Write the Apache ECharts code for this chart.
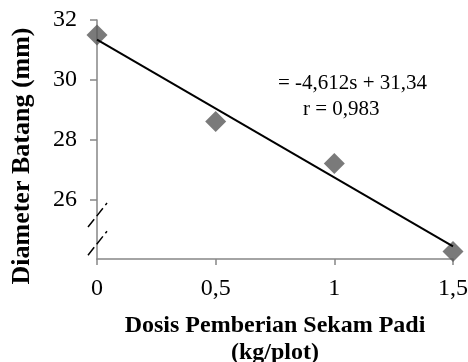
<!DOCTYPE html>
<html>
<head>
<meta charset="utf-8">
<script src="https://cdn.jsdelivr.net/npm/echarts@6/dist/echarts.min.js"></script>
<style>html,body{margin:0;padding:0;background:#fff}#c{width:468px;height:362px}</style>
</head>
<body>
<div id="c"></div>
<script>
// Data
var doses = [0, 0.5, 1, 1.5];
var diameters = [31.5, 28.6, 27.2, 24.25];
var trendX = [0, 1.5];
var trendY = [31.34, 24.42];
var yTicks = [26, 28, 30, 32];
var xTicks = [0, 0.5, 1, 1.5];
var breakValues = [25.47, 24.53];
var eqLine1 = '= -4,612s + 31,34';
var eqLine2 = 'r = 0,983';
var xTitle = 'Dosis Pemberian Sekam Padi\n(kg/plot)';
var yTitle = 'Diameter Batang (mm)';

var FONT = '"Liberation Serif", "Times New Roman", serif';
var AXIS = '#868686';
var chart = echarts.init(document.getElementById('c'), null, {renderer: 'canvas'});

var option = {
  animation: false,
  backgroundColor: '#fff',
  grid: {left: 97, right: 15, top: 20, bottom: 103, outerBoundsMode: 'none', containLabel: false},
  xAxis: {
    type: 'value', min: 0, max: 1.5, interval: 0.5,
    name: xTitle, nameLocation: 'middle', nameGap: 53,
    nameTextStyle: {fontFamily: FONT, fontWeight: 'bold', fontSize: 24, color: '#000', lineHeight: 27, verticalAlign: 'top'},
    axisLine: {lineStyle: {color: AXIS, width: 1.5}},
    axisTick: {show: true, length: 6, lineStyle: {color: AXIS, width: 1.5}},
    splitLine: {show: false},
    axisLabel: {fontFamily: FONT, fontSize: 24, color: '#000', margin: 18,
      formatter: function (v) { return String(v).replace('.', ','); }}
  },
  yAxis: {
    type: 'value', min: 24, max: 32, interval: 2,
    axisLine: {show: true, lineStyle: {color: AXIS, width: 1.5}},
    axisTick: {show: true, length: 7, customValues: yTicks, lineStyle: {color: AXIS, width: 1.5}},
    splitLine: {show: false},
    axisLabel: {fontFamily: FONT, fontSize: 24, color: '#000', margin: 20, customValues: yTicks,
      formatter: function (v) { return yTicks.indexOf(v) >= 0 ? String(v) : ''; }}
  },
  series: [
    {
      type: 'scatter', symbol: 'diamond', symbolSize: 21,
      itemStyle: {color: '#595959'},
      data: doses.map(function (d, i) { return [d, diameters[i]]; }),
      z: 2
    },
    {
      type: 'line', symbol: 'none', silent: true,
      lineStyle: {color: '#000', width: 2},
      data: trendX.map(function (d, i) { return [d, trendY[i]]; }),
      z: 3
    }
  ]
};
chart.setOption(option);

// Axis-break marks, y title and equation text
var gfx = [];
breakValues.forEach(function (v) {
  var p = chart.convertToPixel({gridIndex: 0}, [0, v]);
  gfx.push({
    type: 'line', z: 10,
    shape: {x1: p[0] - 9, y1: p[1] + 12, x2: p[0] + 10, y2: p[1] - 12},
    style: {stroke: '#000', lineWidth: 1.5, lineDash: [10, 4]}
  });
});
gfx.push({type: 'text', x: 22, y: 156, rotation: Math.PI / 2, z: 10,
  style: {text: yTitle, font: 'bold 26px ' + FONT, fill: '#000', align: 'center', verticalAlign: 'middle'}});
gfx.push({type: 'text', left: 278, top: 73, z: 10,
  style: {text: eqLine1, font: '21px ' + FONT, fill: '#000'}});
gfx.push({type: 'text', left: 303, top: 99, z: 10,
  style: {text: eqLine2, font: '21px ' + FONT, fill: '#000'}});
chart.setOption({graphic: gfx});
</script>
</body>
</html>
